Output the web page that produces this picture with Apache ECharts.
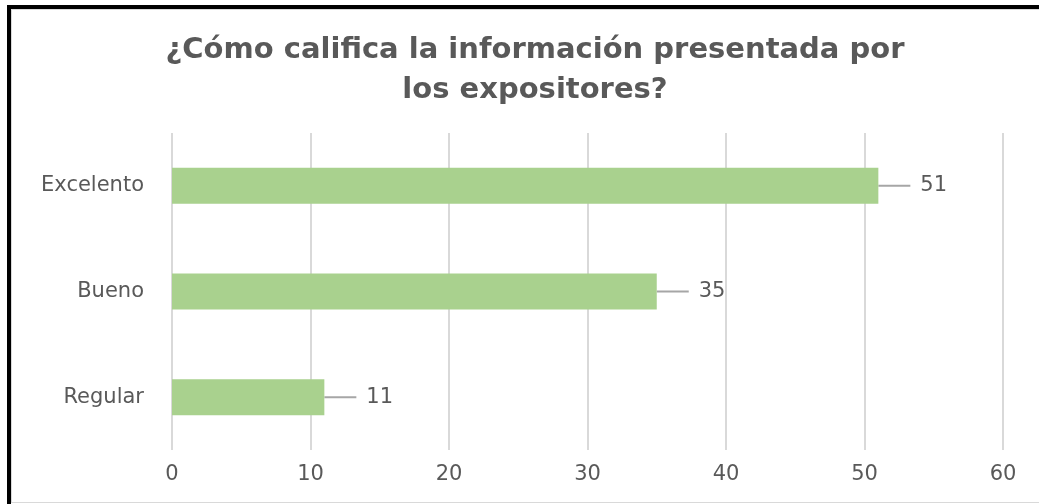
<!DOCTYPE html>
<html><head><meta charset="utf-8">
<script src="https://cdn.jsdelivr.net/npm/echarts@6/dist/echarts.min.js"></script>
<style>
html,body{margin:0;padding:0;background:#fff;}
#frame{position:absolute;left:7px;top:5px;width:1040px;height:495px;border-left:4px solid #000;border-top:4px solid #000;}
#inner{position:absolute;left:11px;top:9px;width:1040px;height:492px;border-left:1px solid #d9d9d9;border-top:1px solid #d9d9d9;border-bottom:1px solid #d9d9d9;}
#c{position:absolute;left:0;top:0;width:1039px;height:504px;}
</style></head>
<body>
<div id="frame"></div><div id="inner"></div>
<div id="c"></div>
<script>
const titleText = '¿Cómo califica la información presentada por\nlos expositores?';
const categories = ['Regular', 'Bueno', 'Excelento'];
const values = [11, 35, 51];
const xTicks = [0, 10, 20, 30, 40, 50, 60];

const chart = echarts.init(document.getElementById('c'));
chart.setOption({
  animation: false,
  title: {
    text: titleText, left: 530, textAlign: 'center', top: 25,
    textStyle: {fontFamily: 'DejaVu Sans', fontWeight: 'bold', fontSize: 29, color: '#595959', lineHeight: 40}
  },
  grid: {left: 172, right: 36, top: 133, bottom: 54},
  xAxis: {
    type: 'value', min: xTicks[0], max: xTicks[xTicks.length - 1], interval: 10,
    axisLine: {show: false}, axisTick: {show: false},
    splitLine: {lineStyle: {color: '#d9d9d9', width: 2}},
    axisLabel: {color: '#595959', fontSize: 21, fontFamily: 'DejaVu Sans', margin: 14}
  },
  yAxis: {
    type: 'category', data: categories,
    axisLine: {show: false}, axisTick: {show: false},
    axisLabel: {color: '#595959', fontSize: 21, fontFamily: 'DejaVu Sans', margin: 28}
  },
  series: [{
    type: 'bar', data: values, barWidth: 36,
    itemStyle: {color: '#a9d18e'},
    label: {
      show: true, position: 'right', distance: 0,
      formatter: '{g|}{v|{c}}',
      rich: {
        g: {width: 10},
        v: {color: '#595959', fontSize: 21, fontFamily: 'DejaVu Sans'}
      }
    },
    labelLayout: {dx: 32},
    labelLine: {show: true, lineStyle: {color: '#a6a6a6', width: 2}}
  }]
});
</script>
</body></html>
